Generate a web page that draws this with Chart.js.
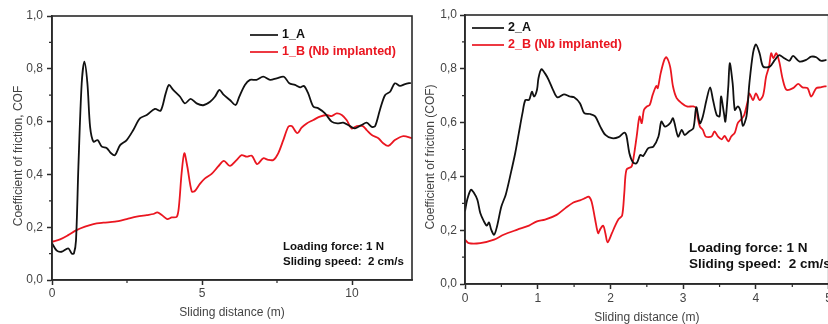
<!DOCTYPE html>
<html>
<head>
<meta charset="utf-8">
<script src="https://cdn.jsdelivr.net/npm/chart.js@4.4.0/dist/chart.umd.min.js"></script>
<style>
  html, body { margin: 0; padding: 0; background: #fff; overflow: hidden; width: 828px; height: 324px; }
  canvas { position: absolute; top: 0; }
</style>
</head>
<body>
<canvas id="cofLeft" width="414" height="324" style="left:0"></canvas>
<canvas id="cofRight" width="420" height="324" style="left:414px"></canvas>
<script>
// ---- data ----
// panel 1 : sliding distance (m) / COF
const dist1A = [0, 0.16, 0.32, 0.54, 0.66, 0.73, 0.8, 0.88, 0.99, 1.08, 1.18, 1.27, 1.38, 1.52, 1.66, 1.82, 1.97, 2.1, 2.27, 2.49, 2.71, 2.93, 3.16, 3.43, 3.62, 3.79, 3.9, 4.04, 4.27, 4.43, 4.62, 4.82, 5.04, 5.27, 5.43, 5.58, 5.71, 5.93, 6.12, 6.24, 6.43, 6.6, 6.82, 7.04, 7.27, 7.49, 7.73, 7.91, 8.1, 8.27, 8.4, 8.54, 8.71, 8.88, 9.1, 9.32, 9.51, 9.71, 9.93, 10.1, 10.32, 10.49, 10.66, 10.77, 10.93, 11.1, 11.27, 11.43, 11.6, 11.77, 11.96];
const cof1A = [0.139, 0.111, 0.107, 0.12, 0.10, 0.10, 0.15, 0.43, 0.745, 0.827, 0.745, 0.58, 0.524, 0.53, 0.505, 0.5, 0.48, 0.473, 0.511, 0.53, 0.568, 0.612, 0.625, 0.648, 0.641, 0.707, 0.739, 0.72, 0.694, 0.669, 0.686, 0.669, 0.662, 0.675, 0.694, 0.72, 0.703, 0.682, 0.663, 0.694, 0.739, 0.758, 0.758, 0.77, 0.758, 0.764, 0.77, 0.745, 0.739, 0.73, 0.735, 0.707, 0.657, 0.65, 0.631, 0.6, 0.593, 0.596, 0.583, 0.574, 0.587, 0.596, 0.58, 0.583, 0.644, 0.7, 0.713, 0.745, 0.735, 0.742, 0.747];
const dist1B = [0, 0.27, 0.54, 0.82, 1.1, 1.38, 1.71, 2.1, 2.49, 2.82, 3.16, 3.38, 3.51, 3.66, 3.84, 3.99, 4.16, 4.23, 4.32, 4.41, 4.51, 4.66, 4.77, 4.93, 5.1, 5.32, 5.54, 5.73, 5.93, 6.16, 6.32, 6.49, 6.66, 6.84, 7.04, 7.21, 7.38, 7.54, 7.71, 7.88, 7.99, 8.18, 8.32, 8.49, 8.71, 8.93, 9.16, 9.32, 9.49, 9.66, 9.82, 9.99, 10.16, 10.36, 10.49, 10.66, 10.88, 11.04, 11.21, 11.43, 11.71, 12];
const cof1B = [0.145, 0.154, 0.17, 0.189, 0.202, 0.212, 0.217, 0.221, 0.231, 0.24, 0.246, 0.25, 0.256, 0.246, 0.231, 0.237, 0.24, 0.278, 0.404, 0.48, 0.43, 0.335, 0.338, 0.364, 0.385, 0.402, 0.43, 0.451, 0.432, 0.455, 0.473, 0.467, 0.471, 0.439, 0.461, 0.455, 0.455, 0.48, 0.53, 0.581, 0.583, 0.556, 0.577, 0.593, 0.606, 0.619, 0.625, 0.621, 0.631, 0.625, 0.606, 0.574, 0.583, 0.583, 0.568, 0.549, 0.537, 0.518, 0.508, 0.53, 0.545, 0.537];

// panel 2
const dist2A = [0, 0.03, 0.08, 0.12, 0.17, 0.21, 0.26, 0.3, 0.33, 0.36, 0.4, 0.44, 0.5, 0.56, 0.63, 0.69, 0.74, 0.79, 0.83, 0.88, 0.92, 0.95, 0.99, 1.01, 1.05, 1.1, 1.15, 1.21, 1.27, 1.36, 1.44, 1.5, 1.58, 1.64, 1.72, 1.79, 1.86, 1.93, 2.02, 2.11, 2.19, 2.22, 2.26, 2.31, 2.36, 2.41, 2.45, 2.52, 2.59, 2.66, 2.7, 2.75, 2.82, 2.86, 2.93, 2.98, 3.02, 3.08, 3.14, 3.18, 3.23, 3.27, 3.32, 3.37, 3.41, 3.46, 3.5, 3.52, 3.56, 3.58, 3.62, 3.64, 3.68, 3.71, 3.75, 3.79, 3.82, 3.87, 3.91, 3.96, 4.0, 4.05, 4.1, 4.19, 4.26, 4.32, 4.39, 4.46, 4.51, 4.6, 4.69, 4.76, 4.83, 4.89, 4.97];
const cof2A = [0.27, 0.313, 0.35, 0.34, 0.313, 0.264, 0.233, 0.217, 0.229, 0.202, 0.183, 0.214, 0.288, 0.332, 0.412, 0.486, 0.561, 0.635, 0.684, 0.684, 0.715, 0.697, 0.722, 0.765, 0.798, 0.783, 0.759, 0.722, 0.694, 0.705, 0.697, 0.694, 0.672, 0.635, 0.632, 0.623, 0.585, 0.554, 0.542, 0.546, 0.563, 0.551, 0.486, 0.452, 0.449, 0.48, 0.476, 0.505, 0.511, 0.548, 0.604, 0.585, 0.598, 0.616, 0.548, 0.573, 0.554, 0.567, 0.579, 0.657, 0.598, 0.623, 0.684, 0.731, 0.684, 0.629, 0.623, 0.697, 0.635, 0.604, 0.734, 0.821, 0.746, 0.647, 0.66, 0.641, 0.588, 0.623, 0.746, 0.858, 0.891, 0.858, 0.808, 0.808, 0.833, 0.851, 0.839, 0.83, 0.848, 0.827, 0.833, 0.845, 0.843, 0.83, 0.833];
const dist2B = [0, 0.05, 0.21, 0.4, 0.53, 0.72, 0.88, 0.99, 1.1, 1.26, 1.38, 1.49, 1.58, 1.65, 1.7, 1.74, 1.79, 1.83, 1.86, 1.9, 1.93, 1.96, 2.02, 2.06, 2.11, 2.16, 2.19, 2.22, 2.29, 2.32, 2.36, 2.4, 2.43, 2.46, 2.5, 2.54, 2.58, 2.63, 2.65, 2.69, 2.74, 2.77, 2.82, 2.86, 2.91, 2.98, 3.05, 3.14, 3.18, 3.2, 3.23, 3.27, 3.31, 3.39, 3.43, 3.48, 3.53, 3.57, 3.62, 3.66, 3.71, 3.75, 3.8, 3.84, 3.89, 3.91, 3.96, 4.0, 4.05, 4.1, 4.14, 4.18, 4.21, 4.24, 4.28, 4.32, 4.37, 4.42, 4.51, 4.58, 4.64, 4.71, 4.76, 4.83, 4.89, 4.97];
const cof2B = [0.165, 0.152, 0.152, 0.165, 0.183, 0.202, 0.217, 0.233, 0.239, 0.257, 0.282, 0.303, 0.311, 0.319, 0.325, 0.307, 0.239, 0.189, 0.204, 0.217, 0.189, 0.155, 0.189, 0.214, 0.241, 0.254, 0.338, 0.425, 0.437, 0.474, 0.548, 0.623, 0.598, 0.647, 0.66, 0.666, 0.703, 0.736, 0.728, 0.783, 0.833, 0.843, 0.808, 0.734, 0.691, 0.672, 0.66, 0.66, 0.653, 0.616, 0.585, 0.573, 0.548, 0.548, 0.567, 0.548, 0.538, 0.551, 0.53, 0.548, 0.563, 0.598, 0.613, 0.629, 0.684, 0.709, 0.684, 0.709, 0.684, 0.703, 0.771, 0.808, 0.858, 0.839, 0.858, 0.827, 0.759, 0.722, 0.728, 0.744, 0.731, 0.728, 0.697, 0.728, 0.731, 0.736];

const labels1 = ['1_A', '1_B (Nb implanted)'];
const labels2 = ['2_A', '2_B (Nb implanted)'];
const notes = ['Loading force: 1 N', 'Sliding speed:  2 cm/s'];
const yTitles = ['Coefficient of friction, COF', 'Coefficient of friction (COF)'];
const xTitle = 'Sliding distance (m)';

const BLACK = '#111111';
const RED = '#ea1620';
const AXIS = '#2a2a2a';
const FONT = "'Liberation Sans', Arial, sans-serif";

function points(xs, ys) {
  return xs.map((x, i) => ({ x: x, y: ys[i] }));
}

// frame, minor ticks, legend, notes and y title
const decor = {
  id: 'decor',
  afterDraw(chart, args, o) {
    const ctx = chart.ctx;
    const a = chart.chartArea;
    const xs = chart.scales.x, ys = chart.scales.y;
    ctx.save();
    ctx.strokeStyle = AXIS;
    ctx.lineWidth = 1.6;
    ctx.strokeRect(a.left, a.top, a.right - a.left, a.bottom - a.top);

    // minor ticks
    ctx.lineWidth = 1.2;
    ctx.beginPath();
    for (let v = o.xMinor; v < xs.max; v += o.xStep) {
      const px = xs.getPixelForValue(v);
      ctx.moveTo(px, a.bottom); ctx.lineTo(px, a.bottom + 3);
    }
    for (let v = 0.1; v < 1; v += 0.2) {
      const py = ys.getPixelForValue(v);
      ctx.moveTo(a.left, py); ctx.lineTo(a.left - 3, py);
    }
    ctx.stroke();

    // legend
    ctx.font = 'bold ' + o.legendSize + 'px ' + FONT;
    ctx.textBaseline = 'middle';
    ctx.lineWidth = 1.7;
    o.legend.forEach((txt, i) => {
      const c = i === 0 ? BLACK : RED;
      const y = o.legendY + i * 17;
      ctx.strokeStyle = c;
      ctx.beginPath();
      ctx.moveTo(o.legendX, y); ctx.lineTo(o.legendX + o.legendLen, y);
      ctx.stroke();
      ctx.fillStyle = c;
      ctx.fillText(txt, o.legendX + o.legendLen + 4, y);
    });

    // notes
    ctx.fillStyle = BLACK;
    ctx.font = 'bold ' + o.noteSize + 'px ' + FONT;
    notes.forEach((txt, i) => ctx.fillText(txt, o.noteX, o.noteY + i * o.noteGap));

    // y title
    ctx.fillStyle = '#444';
    ctx.font = '12px ' + FONT;
    ctx.textAlign = 'center';
    ctx.translate(o.titleX, o.titleY);
    ctx.rotate(-Math.PI / 2);
    ctx.fillText(o.yTitle, 0, 0);
    ctx.restore();
  }
};

function makeChart(id, sets, cfg) {
  return new Chart(document.getElementById(id), {
    type: 'line',
    data: {
      datasets: sets.map((s, i) => ({
        label: s.label,
        data: s.data,
        borderColor: i === 0 ? BLACK : RED,
        borderWidth: 1.8,
        pointRadius: 0,
        tension: 0.3,
        fill: false
      }))
    },
    options: {
      responsive: false,
      animation: false,
      layout: { padding: cfg.padding },
      plugins: {
        legend: { display: false },
        tooltip: { enabled: false },
        decor: cfg.decor
      },
      scales: {
        x: {
          type: 'linear',
          min: 0,
          max: cfg.xMax,
          afterFit: s => { s.height = cfg.xHeight; },
          grid: { drawOnChartArea: false, tickLength: 5, tickWidth: 1.5, tickColor: AXIS },
          border: { color: AXIS, width: 1.6 },
          ticks: {
            stepSize: cfg.xStep,
            includeBounds: false,
            maxRotation: 0,
            padding: cfg.xTickPad,
            color: '#444',
            font: { family: FONT, size: 12 }
          },
          title: {
            display: true,
            text: xTitle,
            color: '#444',
            font: { family: FONT, size: 12 },
            padding: { top: 0, bottom: cfg.xTitlePad }
          }
        },
        y: {
          min: 0,
          max: 1,
          afterFit: s => { s.width = cfg.yWidth; },
          grid: { drawOnChartArea: false, tickLength: 5, tickWidth: 1.5, tickColor: AXIS },
          border: { color: AXIS, width: 1.6 },
          ticks: {
            stepSize: 0.2,
            padding: cfg.yTickPad,
            color: '#444',
            font: { family: FONT, size: 12 },
            callback: v => v.toFixed(1).replace('.', ',')
          }
        }
      }
    },
    plugins: [decor]
  });
}

makeChart('cofLeft', [
  { label: labels1[0], data: points(dist1A, cof1A) },
  { label: labels1[1], data: points(dist1B, cof1B) }
], {
  padding: { top: 16, right: 2, left: 0, bottom: 0 },
  xMax: 12, xStep: 5, xHeight: 44, yWidth: 52,
  xTickPad: 1, yTickPad: 4, xTitlePad: 4,
  decor: {
    xMinor: 2.5, xStep: 5,
    legend: labels1, legendX: 250, legendY: 35, legendLen: 28, legendSize: 12.5,
    noteX: 283, noteY: 247, noteGap: 14.5, noteSize: 11.5,
    yTitle: yTitles[0], titleX: 19, titleY: 156
  }
});

makeChart('cofRight', [
  { label: labels2[0], data: points(dist2A, cof2A) },
  { label: labels2[1], data: points(dist2B, cof2B) }
], {
  padding: { top: 15, right: 4, left: 0, bottom: 0 },
  xMax: 5, xStep: 1, xHeight: 40, yWidth: 51,
  xTickPad: 2, yTickPad: 3, xTitlePad: -1,
  decor: {
    xMinor: 0.5, xStep: 1,
    legend: labels2, legendX: 58, legendY: 28, legendLen: 32, legendSize: 12.5,
    noteX: 275, noteY: 248, noteGap: 16, noteSize: 13.5,
    yTitle: yTitles[1], titleX: 17, titleY: 157
  }
});
</script>
</body>
</html>
